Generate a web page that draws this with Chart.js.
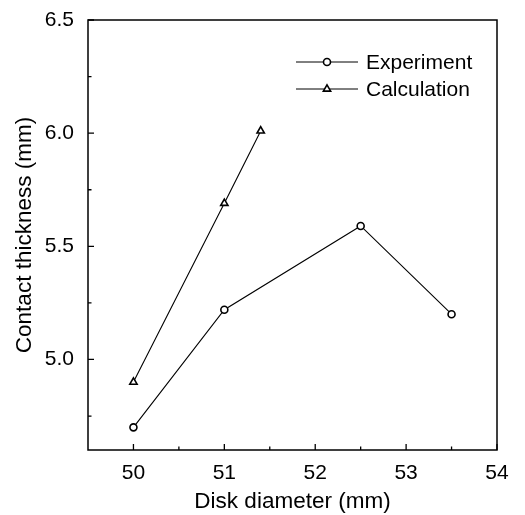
<!DOCTYPE html>
<html>
<head>
<meta charset="utf-8">
<script src="https://cdn.jsdelivr.net/npm/chart.js@4.4.1/dist/chart.umd.min.js"></script>
<style>
  html, body { margin: 0; padding: 0; background: #fff; }
  #wrap { width: 525px; height: 515px; }
</style>
</head>
<body>
<div id="wrap"><canvas id="grafico"></canvas></div>
<script>
// dados
const expX = [50, 51, 52.5, 53.5];
const expY = [4.70, 5.22, 5.59, 5.20];
const calcX = [50, 51, 51.4];
const calcY = [4.90, 5.69, 6.01];

const xTicks = [50, 51, 52, 53, 54];
const xMinor = [50.5, 51.5, 52.5, 53.5];
const yTicks = [5.0, 5.5, 6.0, 6.5];
const yMinor = [4.75, 5.25, 5.75, 6.25];

const fonte = 'Liberation Sans, Arial, Helvetica, sans-serif';

// moldura + ticks para dentro + legenda com linha
const molduraPlugin = {
    id: 'moldura',
    afterDraw(chart) {
        const ctx = chart.ctx;
        const a = chart.chartArea;
        const sx = chart.scales.x, sy = chart.scales.y;
        ctx.save();
        ctx.strokeStyle = '#000';
        ctx.lineWidth = 1.5;
        ctx.strokeRect(a.left, a.top, a.right - a.left, a.bottom - a.top);

        ctx.lineWidth = 1.3;
        ctx.beginPath();
        xTicks.forEach(v => { const p = sx.getPixelForValue(v); ctx.moveTo(p, a.bottom); ctx.lineTo(p, a.bottom - 6); });
        xMinor.forEach(v => { const p = sx.getPixelForValue(v); ctx.moveTo(p, a.bottom); ctx.lineTo(p, a.bottom - 3.5); });
        yTicks.forEach(v => { const p = sy.getPixelForValue(v); ctx.moveTo(a.left, p); ctx.lineTo(a.left + 6, p); });
        yMinor.forEach(v => { const p = sy.getPixelForValue(v); ctx.moveTo(a.left, p); ctx.lineTo(a.left + 3.5, p); });
        ctx.stroke();

        // legenda
        const x0 = a.right - 201, x1 = a.right - 139, tx = a.right - 131;
        const linhas = [
            { y: a.top + 42, label: 'Experiment', ds: 0 },
            { y: a.top + 69, label: 'Calculation', ds: 1 }
        ];
        ctx.font = '21px ' + fonte;
        ctx.textBaseline = 'middle';
        ctx.fillStyle = '#000';
        linhas.forEach(l => {
            ctx.lineWidth = 1;
            ctx.beginPath();
            ctx.moveTo(x0, l.y);
            ctx.lineTo(x1, l.y);
            ctx.stroke();
            const ds = chart.data.datasets[l.ds];
            ctx.lineWidth = ds.pointBorderWidth;
            ctx.fillStyle = '#fff';
            Chart.helpers.drawPoint(ctx, { pointStyle: ds.pointStyle, radius: ds.pointRadius, borderWidth: ds.pointBorderWidth }, (x0 + x1) / 2, l.y);
            ctx.fillStyle = '#000';
            ctx.fillText(l.label, tx, l.y + 1);
        });
        ctx.restore();
    }
};

new Chart(document.getElementById('grafico'), {
    type: 'scatter',
    data: {
        datasets: [{
            label: 'Experiment',
            data: expX.map((x, i) => ({ x: x, y: expY[i] })),
            showLine: true,
            borderColor: '#000',
            borderWidth: 1.1,
            pointStyle: 'circle',
            pointRadius: 3.5,
            pointBorderWidth: 1.6,
            pointBorderColor: '#000',
            pointBackgroundColor: '#fff'
        }, {
            label: 'Calculation',
            data: calcX.map((x, i) => ({ x: x, y: calcY[i] })),
            showLine: true,
            borderColor: '#000',
            borderWidth: 1.1,
            pointStyle: 'triangle',
            pointRadius: 4.2,
            pointBorderWidth: 1.6,
            pointBorderColor: '#000',
            pointBackgroundColor: '#fff'
        }]
    },
    options: {
        responsive: true,
        maintainAspectRatio: false,
        animation: false,
        layout: { padding: { left: 11, right: 28, top: 20, bottom: 0 } },
        scales: {
            x: {
                type: 'linear',
                min: 49.5,
                max: 54,
                afterBuildTicks: s => { s.ticks = xTicks.map(v => ({ value: v })); },
                afterFit: s => { s.height = 65; },
                grid: { display: false },
                border: { display: false },
                ticks: { color: '#000', font: { family: fonte, size: 21 }, padding: 3, maxRotation: 0, callback: v => String(v) },
                title: { display: true, text: 'Disk diameter (mm)', color: '#000', font: { family: fonte, size: 22.5 }, padding: { top: 4, bottom: 0 } }
            },
            y: {
                type: 'linear',
                min: 4.6,
                max: 6.5,
                afterBuildTicks: s => { s.ticks = yTicks.map(v => ({ value: v })); },
                afterFit: s => { s.width = 77; },
                grid: { display: false },
                border: { display: false },
                ticks: { color: '#000', font: { family: fonte, size: 21 }, padding: 6, callback: v => v.toFixed(1) },
                title: { display: true, text: 'Contact thickness (mm)', color: '#000', font: { family: fonte, size: 22.5 }, padding: { top: 0, bottom: 4 } }
            }
        },
        plugins: {
            legend: { display: false },
            tooltip: { enabled: false }
        }
    },
    plugins: [molduraPlugin]
});
</script>
</body>
</html>
